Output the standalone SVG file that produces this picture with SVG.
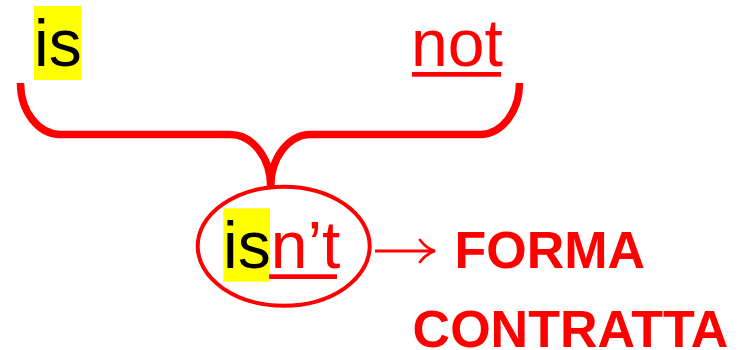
<svg xmlns="http://www.w3.org/2000/svg" width="740" height="350" viewBox="0 0 740 350">
<style>
.w{font-family:"Liberation Sans",Arial,sans-serif;font-size:66px}
.b{font-family:"Liberation Sans",Arial,sans-serif;font-size:52px;font-weight:bold;fill:#ff0000}
.hl{fill:#ffff00}
.red{fill:#ff0000}
.blk{fill:#000000}
.ln{fill:none;stroke:#ff0000}
</style>
<rect width="740" height="350" fill="#ffffff"/>
<g id="node-is">
<rect class="hl" x="34" y="6" width="47.5" height="74"/>
<text class="w blk" x="34" y="66">is</text>
</g>
<g id="node-not">
<text class="w red" x="411" y="66">not</text>
<rect class="red" x="412" y="72" width="89" height="4.7"/>
</g>
<g id="node-isnt">
<ellipse class="ln" cx="283.7" cy="246.2" rx="86" ry="59.5" stroke-width="4"/>
<rect class="hl" x="223.3" y="208.3" width="46.7" height="73.4"/>
<text class="w" x="223" y="268.3"><tspan class="blk">is</tspan><tspan class="red">n’t</tspan></text>
<rect class="red" x="269" y="274.3" width="68" height="4.7"/>
</g>
<g id="node-label">
<text class="b" x="454.5" y="267.7">FORMA</text>
<text class="b" x="412.6" y="346.7">CONTRATTA</text>
</g>
<g id="connectors">
<path class="ln" stroke-width="7.5" d="M20.5,83 A40 51.5 0 0 0 60.5,134.5 L230,134.5 A40.7 52.2 0 0 1 270.7,186.7 A40 52.2 0 0 1 310.7,134.5 L480,134.5 A39.5 51.5 0 0 0 519.5,83"/>
<path class="ln" stroke-width="3" d="M375,251 L433,251"/>
<path class="ln" stroke-width="2.8" stroke-linecap="round" d="M420,240 Q427,249 435,251 Q427,253 420,262"/>
</g>
</svg>
